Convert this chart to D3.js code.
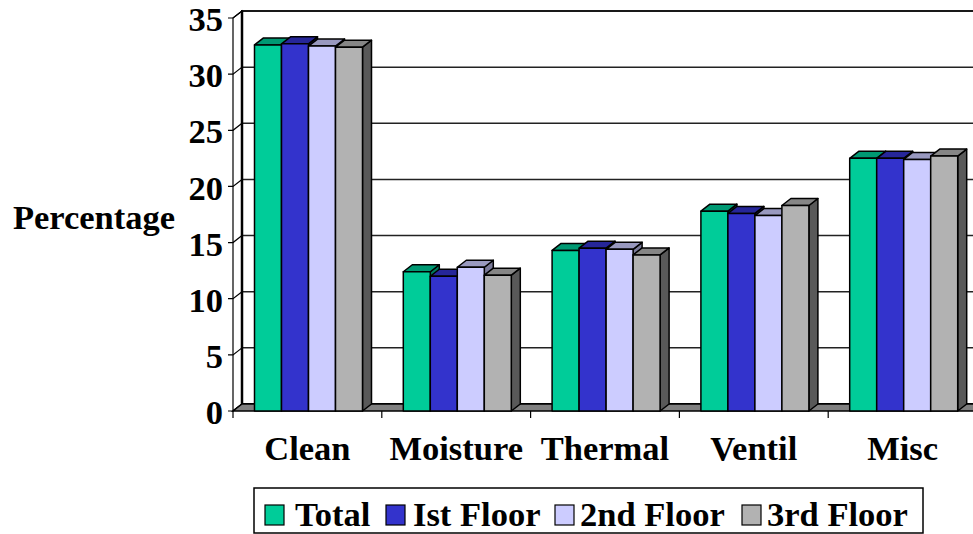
<!DOCTYPE html>
<html><head><meta charset="utf-8">
<script src="https://cdn.jsdelivr.net/npm/d3@7"></script>
<style>
html,body{margin:0;padding:0;background:#fff;overflow:hidden}
text{font-family:"Liberation Serif","Times New Roman",serif;font-weight:bold;fill:#000}
</style></head>
<body>
<svg id="chart" width="973" height="534"></svg>
<script>
const categories = ["Clean","Moisture","Thermal","Ventil","Misc"];
const seriesNames = ["Total","Ist Floor","2nd Floor","3rd Floor"];
const totalVals  = [32.6, 12.4, 14.3, 17.8, 22.5];
const floor1Vals = [32.7, 12.0, 14.5, 17.6, 22.5];
const floor2Vals = [32.5, 12.8, 14.4, 17.4, 22.4];
const floor3Vals = [32.4, 12.1, 13.9, 18.3, 22.7];
const yTicks = [0,5,10,15,20,25,30,35];

const frontColors = ["#00CC99","#3333CC","#CCCCFF","#B2B2B2"];
const topColors   = ["#009973","#262699","#9999BF","#868686"];
const sideColors  = ["#007A5C","#1F1F7A","#7A7A99","#595959"];
const seriesVals = [totalVals, floor1Vals, floor2Vals, floor3Vals];

const svg = d3.select("#chart");
const DX = 9, DY = -7;
const x0 = 233, yBase = 411;
const x = d3.scaleBand().domain(categories).range([x0, x0 + 5*148.8]).padding(0);
const xs = d3.scaleBand().domain(seriesNames).range([21.5, 129.5]).padding(0);
const y = d3.scaleLinear().domain([0,35]).range([yBase, 18]);
const xEnd = x.range()[1];
const FS = "34.5px";

// back wall
svg.append("rect").attr("x", x0+DX).attr("y", y(35)+DY).attr("width", xEnd - x0 + 40)
  .attr("height", yBase - y(35)).attr("fill","#fff").attr("stroke","#000").attr("stroke-width",2);
// gridlines on back wall
svg.append("g").selectAll("line").data(yTicks.filter(t=>t>0)).join("line")
  .attr("x1", x0+DX).attr("x2", xEnd+60)
  .attr("y1", d=>y(d)+DY).attr("y2", d=>y(d)+DY)
  .attr("stroke","#222").attr("stroke-width",1.5);
// side wall
svg.append("path").attr("d", `M${x0},${yBase}L${x0+DX},${yBase+DY}L${x0+DX},${y(35)+DY}L${x0},${y(35)}Z`)
  .attr("fill","#fff").attr("stroke","#000").attr("stroke-width",1.2);
svg.append("line").attr("x1",x0+DX).attr("x2",x0+DX).attr("y1",y(35)+DY).attr("y2",yBase+DY)
  .attr("stroke","#000").attr("stroke-width",2.5);
// side wall gridlines + ticks
svg.append("g").selectAll("path").data(yTicks).join("path")
  .attr("d", d=>`M${x0-5},${y(d)}L${x0},${y(d)}L${x0+DX},${y(d)+DY}`)
  .attr("fill","none").attr("stroke","#000").attr("stroke-width",1.2);
// floor
svg.append("path").attr("d", `M${x0},${yBase}L${xEnd+40},${yBase}L${xEnd+40+DX},${yBase+DY}L${x0+DX},${yBase+DY}Z`)
  .attr("fill","#808080").attr("stroke","#000").attr("stroke-width",1.5);
// x ticks
svg.append("g").selectAll("line").data(d3.range(6)).join("line")
  .attr("x1", i=>x0+i*x.step()).attr("x2", i=>x0+i*x.step())
  .attr("y1", yBase).attr("y2", yBase+7).attr("stroke","#000").attr("stroke-width",1.2);

// bars
const bars = svg.append("g");
categories.forEach((c, ci) => {
  seriesNames.forEach((s, si) => {
    const v = seriesVals[si][ci];
    const bx = x(c) + xs(s), bw = xs.bandwidth(), ty = y(v);
    const g = bars.append("g").attr("stroke","#000").attr("stroke-width",1.5).attr("stroke-linejoin","round");
    g.append("path").attr("d", `M${bx+bw},${ty}L${bx+bw+DX},${ty+DY}L${bx+bw+DX},${yBase+DY}L${bx+bw},${yBase}Z`).attr("fill", sideColors[si]);
    g.append("path").attr("d", `M${bx},${ty}L${bx+DX},${ty+DY}L${bx+bw+DX},${ty+DY}L${bx+bw},${ty}Z`).attr("fill", topColors[si]);
    g.append("rect").attr("x", bx).attr("y", ty).attr("width", bw).attr("height", yBase-ty).attr("fill", frontColors[si]);
  });
});

// y tick labels
svg.append("g").selectAll("text").data(yTicks).join("text")
  .attr("x", 223).attr("y", d=>y(d)).attr("dy","0.38em").attr("text-anchor","end")
  .style("font-size",FS).text(d=>d);
// category labels
svg.append("g").selectAll("text").data(categories).join("text")
  .attr("x", d=>x(d)+x.bandwidth()/2).attr("y", 460).attr("text-anchor","middle")
  .style("font-size",FS).text(d=>d);
// axis title
svg.append("text").attr("x", 94).attr("y", 229).attr("text-anchor","middle").style("font-size",FS).text("Percentage");

// legend
const leg = svg.append("g");
leg.append("rect").attr("x",254).attr("y",488).attr("width",669).attr("height",45)
  .attr("fill","#fff").attr("stroke","#000").attr("stroke-width",1.5);
const legSq = [265, 386, 555, 742];
const legTx = [295, 413, 580, 767];
seriesNames.forEach((s, i) => {
  leg.append("rect").attr("x", legSq[i]).attr("y", 505).attr("width", 19).attr("height", 20)
    .attr("fill", frontColors[i]).attr("stroke","#000").attr("stroke-width",1.2);
  leg.append("text").attr("x", legTx[i]).attr("y", 526).style("font-size",FS).text(s);
});
</script>
</body></html>
